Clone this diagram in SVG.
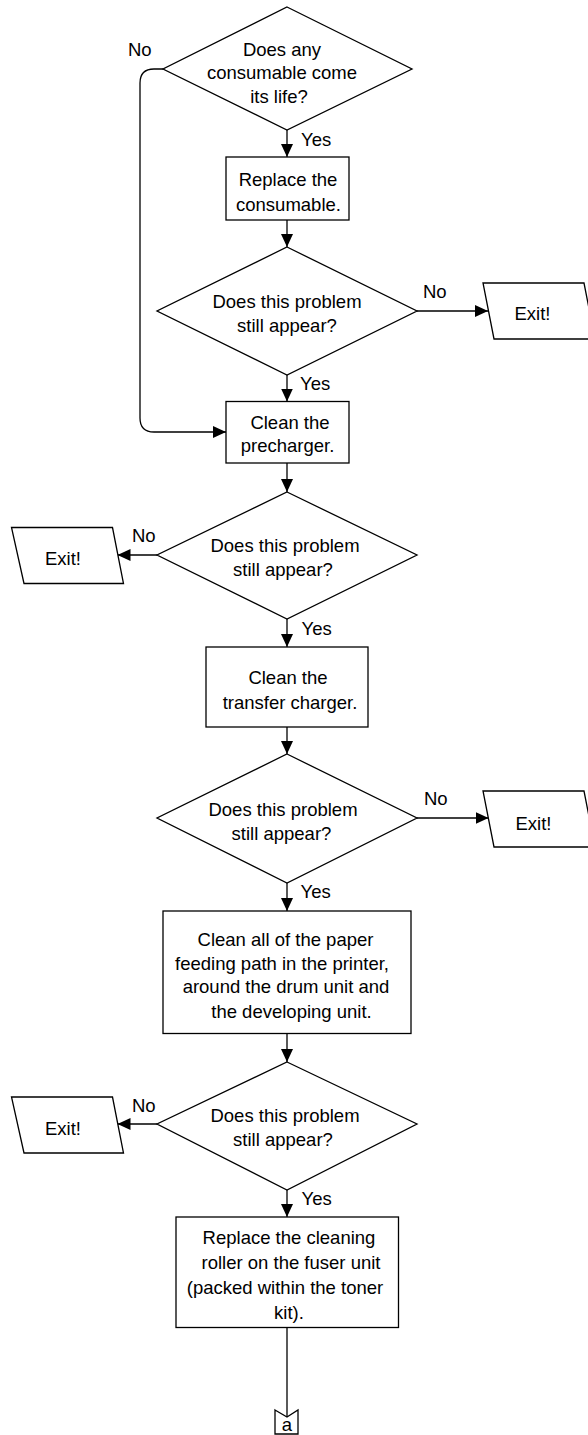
<svg xmlns="http://www.w3.org/2000/svg" width="588" height="1435" viewBox="0 0 588 1435">
<defs>
<style>
.s{fill:#fff;stroke:#000;stroke-width:1.3}
.c{fill:none;stroke:#000;stroke-width:1.3}
text{font-family:"Liberation Sans",Arial,sans-serif;font-size:18.5px;fill:#000}
.m{text-anchor:middle}
</style>
<marker id="arr" viewBox="0 0 13 12" refX="13" refY="6" markerWidth="13" markerHeight="12" orient="auto" markerUnits="userSpaceOnUse"><path d="M0,0 L13,6 L0,12 Z" fill="#000"/></marker>
</defs>
<rect width="588" height="1435" fill="#fff"/>
<g id="connectors">
<path class="c" d="M287,130 V157" marker-end="url(#arr)"/>
<path class="c" d="M287,220 V247" marker-end="url(#arr)"/>
<path class="c" d="M287,375 V401.5" marker-end="url(#arr)"/>
<path class="c" d="M287,463 V492" marker-end="url(#arr)"/>
<path class="c" d="M287,619 V647" marker-end="url(#arr)"/>
<path class="c" d="M287,727 V754" marker-end="url(#arr)"/>
<path class="c" d="M287,883 V911" marker-end="url(#arr)"/>
<path class="c" d="M287,1033 V1062" marker-end="url(#arr)"/>
<path class="c" d="M287,1190 V1217" marker-end="url(#arr)"/>
<path class="c" d="M287,1327 V1417"/>
<path class="c" d="M163,69 H154 Q140,69 140,83 V418 Q140,432 154,432 H226" marker-end="url(#arr)"/>
<path class="c" d="M417,311 H488" marker-end="url(#arr)"/>
<path class="c" d="M157,555 H117.5" marker-end="url(#arr)"/>
<path class="c" d="M417,818 H488.5" marker-end="url(#arr)"/>
<path class="c" d="M157,1124 H117.5" marker-end="url(#arr)"/>
<text x="128" y="56">No</text>
<text x="301" y="146">Yes</text>
<text x="423" y="298">No</text>
<text x="300" y="390">Yes</text>
<text x="132" y="542">No</text>
<text x="301.5" y="635">Yes</text>
<text x="424" y="805">No</text>
<text x="300.5" y="898">Yes</text>
<text x="132" y="1112">No</text>
<text x="301.5" y="1205">Yes</text>
</g>
<g id="d1">
<polygon class="s" points="287,7 412,69 287,130 163,69"/>
<text class="m" x="282" y="56">Does any</text>
<text class="m" x="282" y="79">consumable come</text>
<text class="m" x="279" y="102.5">its life?</text>
</g>
<g id="b1">
<rect class="s" x="226" y="157" width="123" height="63"/>
<text class="m" x="288" y="185.5">Replace the</text>
<text class="m" x="288.5" y="210.5">consumable.</text>
</g>
<g id="d2">
<polygon class="s" points="287,247 417,311 287,375 157,311"/>
<text class="m" x="287" y="308">Does this problem</text>
<text class="m" x="287" y="332">still appear?</text>
</g>
<g id="exit1">
<polygon class="s" points="483,283 584,283 595,339 494,339"/>
<text class="m" x="532.5" y="319.5">Exit!</text>
</g>
<g id="b2">
<rect class="s" x="226" y="401.5" width="123" height="61.5"/>
<text class="m" x="290" y="428.5">Clean the</text>
<text class="m" x="287.5" y="452">precharger.</text>
</g>
<g id="d3">
<polygon class="s" points="287,492 417,555 287,619 157,555"/>
<text class="m" x="285" y="552">Does this problem</text>
<text class="m" x="283" y="576">still appear?</text>
</g>
<g id="exit2">
<polygon class="s" points="11.5,527.5 112.5,527.5 123.5,583.5 24,583.5"/>
<text class="m" x="63" y="565">Exit!</text>
</g>
<g id="b3">
<rect class="s" x="206" y="647" width="162" height="80"/>
<text class="m" x="288" y="683.5">Clean the</text>
<text class="m" x="290" y="708.5">transfer charger.</text>
</g>
<g id="d4">
<polygon class="s" points="287,754 417,818 287,883 157,818"/>
<text class="m" x="283" y="816">Does this problem</text>
<text class="m" x="281.5" y="839.5">still appear?</text>
</g>
<g id="exit3">
<polygon class="s" points="483,791 584,791 595,847 494,847"/>
<text class="m" x="533.5" y="829.5">Exit!</text>
</g>
<g id="b4">
<rect class="s" x="163" y="911" width="248" height="122.5"/>
<text class="m" x="285.5" y="945.5">Clean all of the paper</text>
<text class="m" x="282" y="969.5">feeding path in the printer,</text>
<text class="m" x="286" y="992.5">around the drum unit and</text>
<text class="m" x="291.5" y="1017.5">the developing unit.</text>
</g>
<g id="d5">
<polygon class="s" points="287,1062 417,1124 287,1190 157,1124"/>
<text class="m" x="285" y="1121.5">Does this problem</text>
<text class="m" x="283" y="1145.5">still appear?</text>
</g>
<g id="exit4">
<polygon class="s" points="11.5,1097 112.5,1097 123.5,1153 24,1153"/>
<text class="m" x="63" y="1135">Exit!</text>
</g>
<g id="b5">
<rect class="s" x="176" y="1217" width="222.5" height="110.5"/>
<text class="m" x="289" y="1244">Replace the cleaning</text>
<text class="m" x="291" y="1269">roller on the fuser unit</text>
<text class="m" x="285" y="1293.5">(packed within the toner</text>
<text class="m" x="289" y="1319">kit).</text>
</g>
<g id="offpage_a">
<polygon class="s" points="275,1410 287,1417 298,1410 298,1434 275,1434"/>
<text class="m" x="287" y="1431">a</text>
</g>
</svg>
